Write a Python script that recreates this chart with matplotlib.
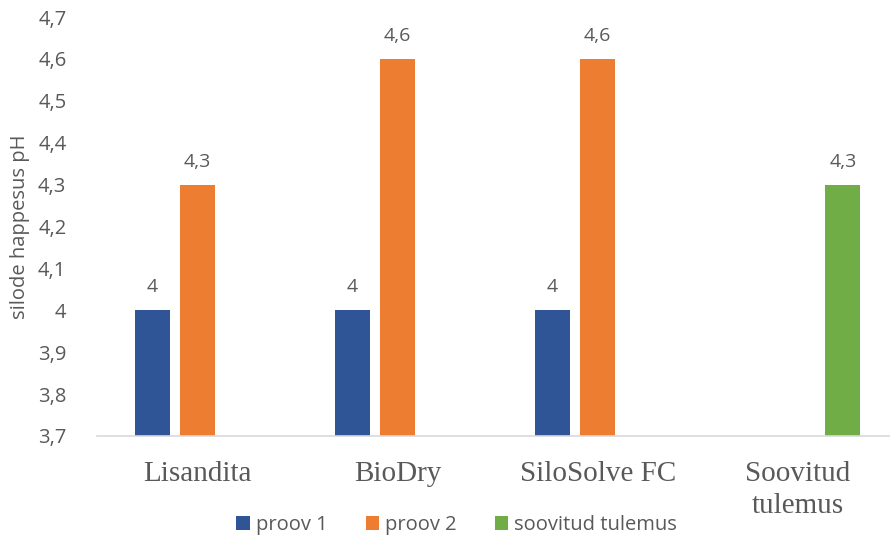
import numpy as np
import matplotlib.pyplot as plt

categories = ['Lisandita', 'BioDry', 'SiloSolve FC', 'Soovitud\ntulemus']
proov1 = [4.0, 4.0, 4.0, np.nan]
proov2 = [4.3, 4.6, 4.6, np.nan]
soovitud = [np.nan, np.nan, np.nan, 4.3]
series_names = ['proov 1', 'proov 2', 'soovitud tulemus']
y_ticks = [3.7, 3.8, 3.9, 4.0, 4.1, 4.2, 4.3, 4.4, 4.5, 4.6, 4.7]

colors = ['#2F5597', '#ED7D31', '#70AD47']
txt = '#595959'


def fmt(v):
    return '{:g}'.format(v).replace('.', ',')


def main():
    fig = plt.figure(figsize=(8.9, 5.42), dpi=100)
    ax = fig.add_axes([0.109, 0.1956, 0.891, 0.773])

    x = np.arange(len(categories))
    width = 0.175
    offsets = [-0.225, 0.0, 0.225]
    for vals, off, col, name in zip([proov1, proov2, soovitud], offsets, colors, series_names):
        vals = np.array(vals, dtype=float)
        ok = ~np.isnan(vals)
        bars = ax.bar(x[ok] + off, vals[ok] - 3.7, width, bottom=3.7, color=col, label=name)
        ax.bar_label(bars, labels=[fmt(v) for v in vals[ok]], padding=10,
                     color=txt, fontsize=14, family='Open Sans')

    ax.set_ylim(3.7, 4.7)
    ax.set_xlim(-0.5, 3.46)
    ax.set_yticks(y_ticks)
    ax.set_yticklabels([fmt(round(t, 1)) for t in y_ticks], color=txt, fontsize=14.5, family='Open Sans')
    ax.set_xticks(x)
    ax.set_xticklabels(categories, color=txt, fontsize=21, family='Liberation Serif', linespacing=1.3)
    ax.tick_params(axis='y', length=0, pad=22)
    ax.tick_params(axis='x', length=0, pad=18)
    for s in ['top', 'right', 'left']:
        ax.spines[s].set_visible(False)
    ax.spines['bottom'].set_color('#D9D9D9')
    ax.spines['bottom'].set_linewidth(1.2)
    ax.set_ylabel('silode happesus pH', color=txt, fontsize=14.5, family='Open Sans', labelpad=6)

    leg = fig.legend(loc='center', bbox_to_anchor=(0.513, 0.031), ncol=3, frameon=False,
                     prop={'family': 'Open Sans', 'size': 14.5}, handlelength=0.65, handleheight=0.65,
                     handletextpad=0.3, columnspacing=1.9)
    for t in leg.get_texts():
        t.set_color(txt)

    plt.savefig('out.png', dpi=100, facecolor='w')


if __name__ == '__main__':
    main()
